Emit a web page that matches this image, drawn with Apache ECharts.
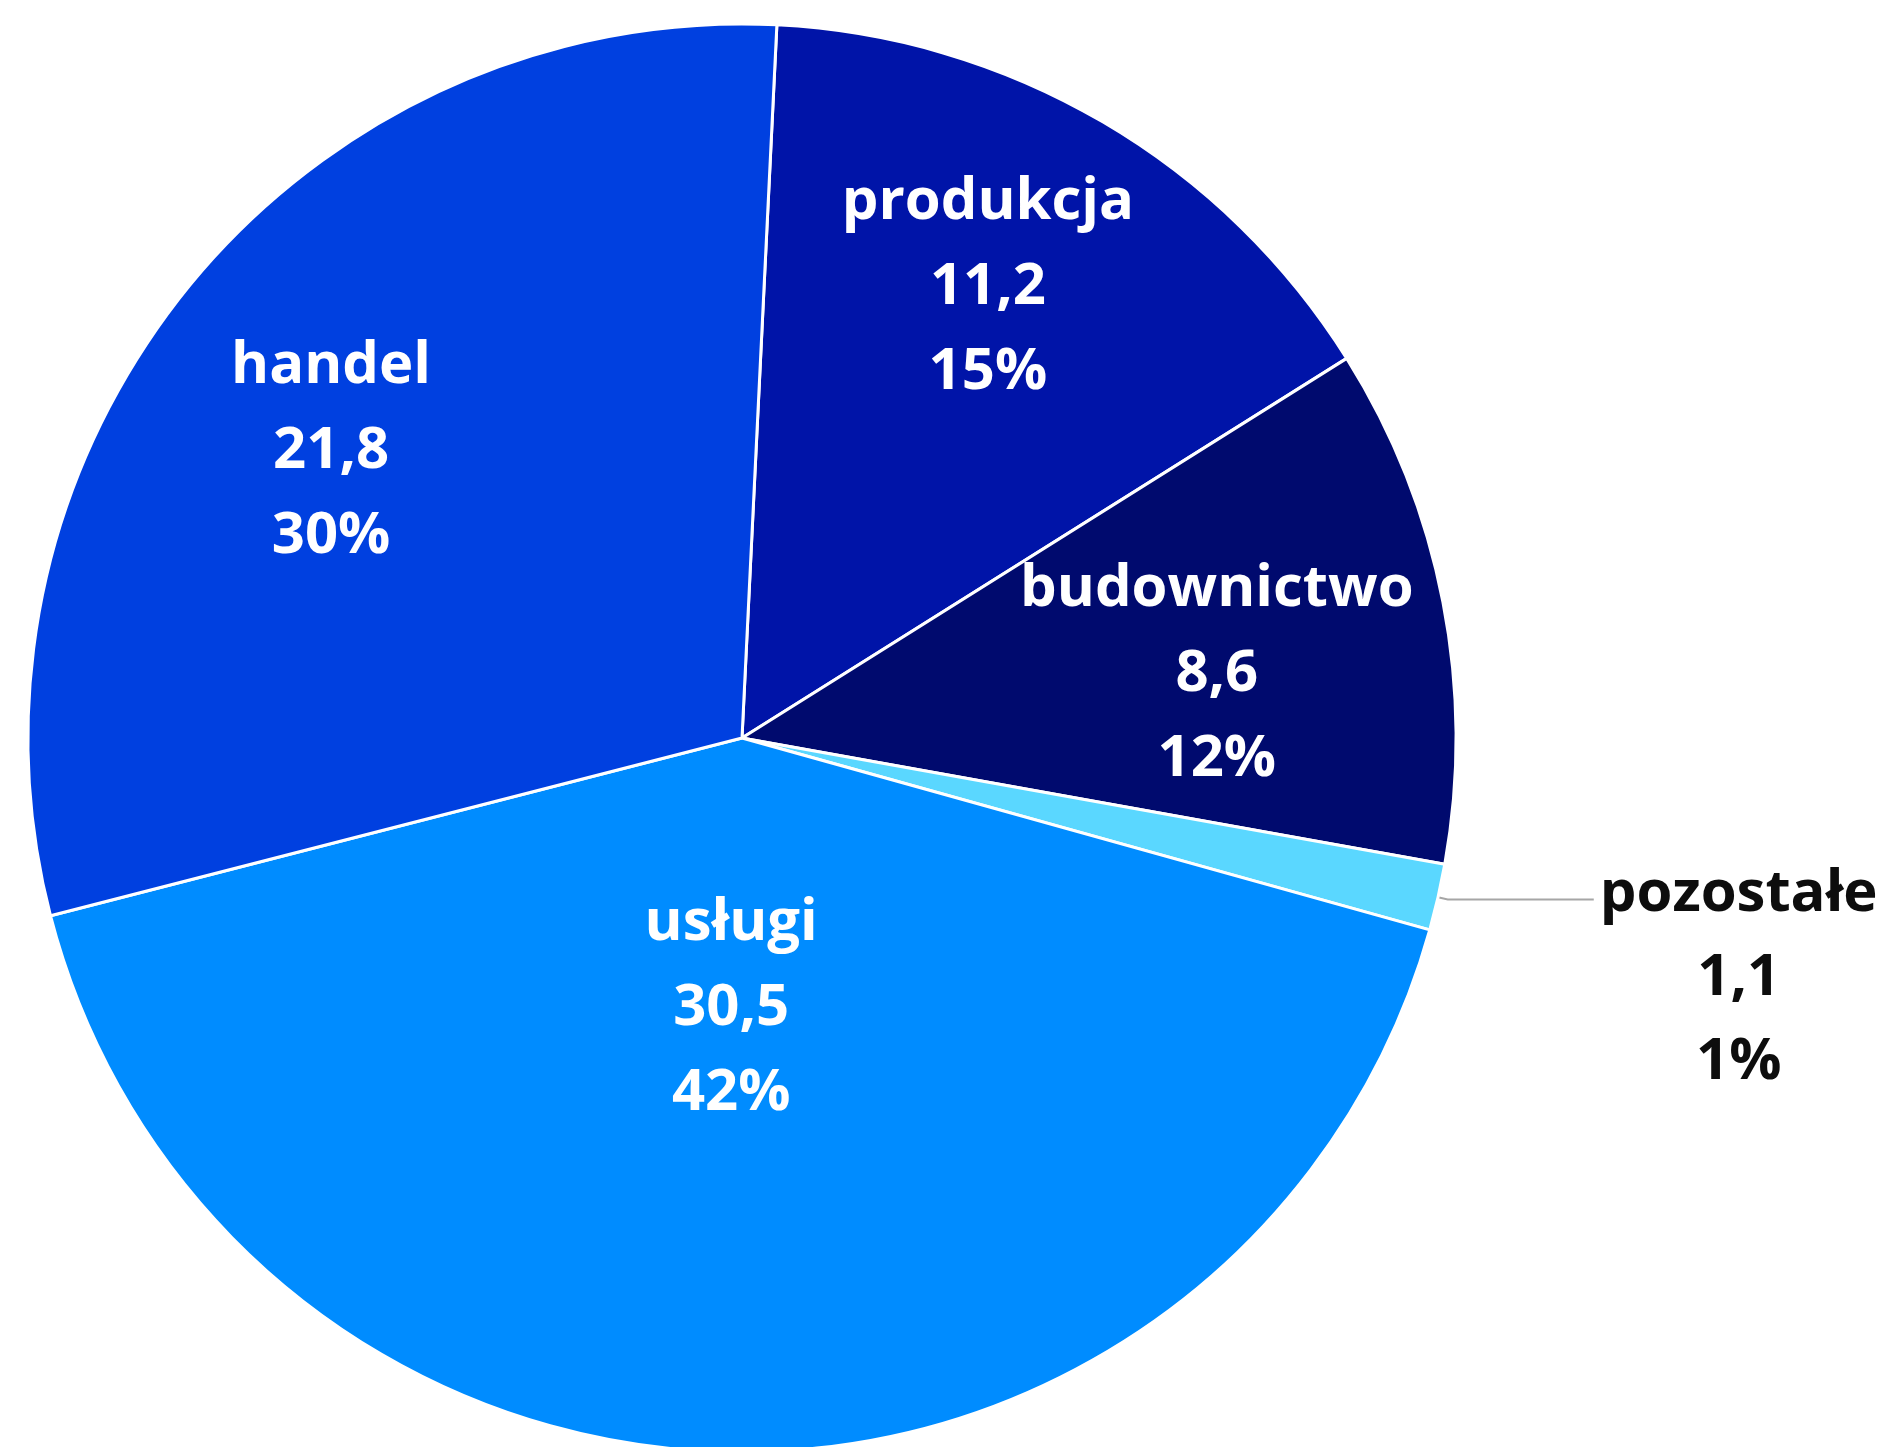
<!DOCTYPE html>
<html><head><meta charset="utf-8">
<script src="https://cdn.jsdelivr.net/npm/echarts@6/dist/echarts.min.js"></script>
<style>html,body{margin:0;padding:0;background:#fff}#c{width:1886px;height:1447px}</style>
</head><body><div id="c"></div>
<script>
const categories = ['produkcja', 'budownictwo', 'pozostałe', 'usługi', 'handel'];
const values = [11.2, 8.6, 1.1, 30.5, 21.8];
const percents = [15, 12, 1, 42, 30];
const colors = ['#0014A8', '#000A6E', '#5AD7FF', '#008CFF', '#0040E0'];

// layout (not data): centre, radius, inside-label distance from centre (share of radius) and small angular nudge (deg)
const CX = 742, CY = 738, R = 714;
const labelDist = { 'produkcja': 510 / 714, 'budownictwo': 476 / 714, 'usługi': 268 / 714, 'handel': 498 / 714 };
const labelNudge = { 'produkcja': 1.7, 'budownictwo': -3.4, 'usługi': -1.7, 'handel': 4.3 };
const START = 87.2;
const FONT = 'Open Sans';
const FS = 58;

function fmtNum(v) { return v.toFixed(1).replace('.', ','); }

const chart = echarts.init(document.getElementById('c'), null, { renderer: 'canvas' });

const mainSeries = {
  type: 'pie', center: [CX, CY], radius: [0, R], startAngle: START, clockwise: true,
  avoidLabelOverlap: false, emphasis: { disabled: true }, silent: true,
  itemStyle: { borderColor: '#ffffff', borderWidth: 3 },
  data: categories.map((c, i) => ({
    name: c, value: values[i], itemStyle: { color: colors[i] },
    label: { show: !(c in labelDist) }, labelLine: { show: !(c in labelDist) }
  })),
  label: {
    position: 'outside',
    formatter: p => '{t|' + p.name + '}\n{t|' + fmtNum(p.value) + '}\n{t|' + percents[p.dataIndex] + '%}',
    rich: { t: { align: 'center', fontFamily: FONT, fontWeight: 'bold', fontSize: FS, lineHeight: 84, color: '#0D0D0D' } },
    padding: [158, 0, 0, 0],
    distanceToLabelLine: 6
  },
  labelLine: { show: true, length: 10, length2: 146, smooth: false, lineStyle: { color: '#A6A6A6', width: 2 } },
  z: 2
};

const overlays = Object.keys(labelDist).map(name => ({
  type: 'pie', center: [CX, CY], radius: [0, 2 * labelDist[name] * R],
  startAngle: START + labelNudge[name], clockwise: true,
  silent: true, avoidLabelOverlap: false, emphasis: { disabled: true },
  itemStyle: { color: 'rgba(0,0,0,0)', borderWidth: 0 },
  labelLine: { show: false },
  data: categories.map((c, i) => ({ name: c, value: values[i], label: { show: c === name } })),
  label: {
    position: 'inside',
    formatter: p => p.name + '\n' + fmtNum(p.value) + '\n' + percents[p.dataIndex] + '%',
    color: '#ffffff', fontFamily: FONT, fontWeight: 'bold', fontSize: FS, lineHeight: 85, align: 'center',
    padding: [12, 0, 0, 0]
  },
  z: 3
}));

chart.setOption({
  animation: false,
  backgroundColor: '#ffffff',
  series: [mainSeries].concat(overlays)
});
</script></body></html>
